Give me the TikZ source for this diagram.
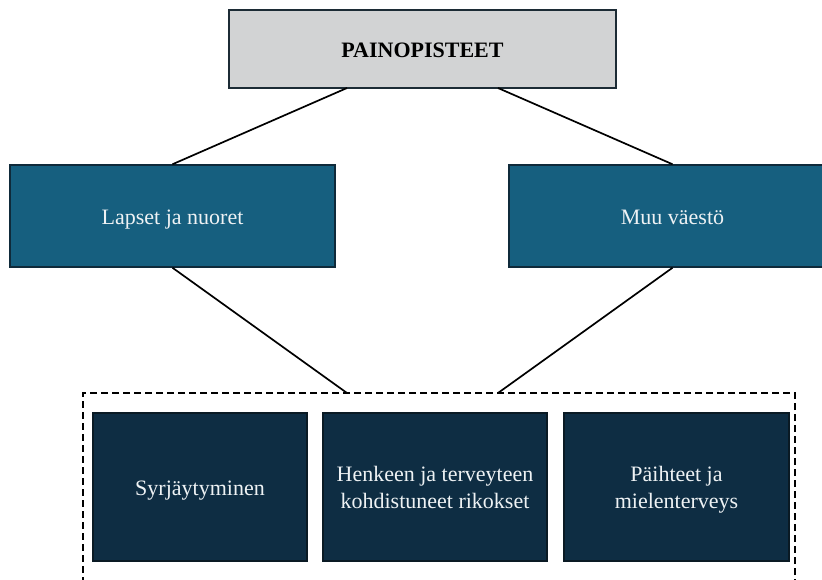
\documentclass[tikz,border=0pt]{standalone}
\usepackage{fontspec}
\setmainfont{Liberation Serif}
\definecolor{topfill}{HTML}{D2D3D4}
\definecolor{topdraw}{HTML}{1C2B35}
\definecolor{midfill}{HTML}{165F7F}
\definecolor{middraw}{HTML}{0F2A3A}
\definecolor{lowfill}{HTML}{0E2D43}
\definecolor{lowdraw}{HTML}{0A1A24}
\definecolor{lighttext}{HTML}{EEF2F4}
\tikzset{
  box/.style={rectangle, inner sep=0pt, line width=1.5pt, align=center,
    font=\fontsize{22}{27}\selectfont},
  oneline/.style={text height=19pt, text depth=3pt},
  topbox/.style={box, oneline, fill=topfill, draw=topdraw, text=black, font=\fontsize{22}{27}\selectfont\bfseries},
  midbox/.style={box, oneline, fill=midfill, draw=middraw, text=lighttext},
  lowbox/.style={box, fill=lowfill, draw=lowdraw, text=lighttext},
  grp/.style={rectangle, draw=black, line width=2.2pt, dash pattern=on 7pt off 4pt},
  conn/.style={draw=black, line width=1.7pt}
}
\newcommand{\nodepth}[1]{\raisebox{0pt}[\height][0pt]{#1}}
\begin{document}
\begin{tikzpicture}[x=1pt,y=-1pt]
\clip (0,0) rectangle (822,579);
\fill[white] (0,0) rectangle (822,579);
\node[grp, minimum width=712pt, minimum height=207pt] (group) at (439,496.5) {};
\node[topbox, minimum width=387pt, minimum height=78pt] (top) at (422.5,49) {PAINOPISTEET};
\node[midbox, minimum width=325pt, minimum height=102pt] (lapset) at (172.5,216) {Lapset ja nuoret};
\node[midbox, minimum width=327pt, minimum height=102pt] (muu) at (672.5,216) {Muu väestö};
\node[lowbox, oneline, minimum width=214pt, minimum height=148pt] (syr) at (200,487) {Syrjäytyminen};
\node[lowbox, minimum width=224pt, minimum height=148pt] (henk) at (435,487) {Henkeen ja terveyteen\\\nodepth{kohdistuneet rikokset}};
\node[lowbox, minimum width=225pt, minimum height=148pt] (paih) at (676.5,487) {Päihteet ja\\\nodepth{mielenterveys}};
\coordinate (tl) at (347,88);
\coordinate (tr) at (498,88);
\coordinate (gl) at (347,393);
\coordinate (gr) at (498,393);
\draw[conn] (tl) -- (lapset.north);
\draw[conn] (tr) -- (muu.north);
\draw[conn] (lapset.south) -- (gl);
\draw[conn] (muu.south) -- (gr);
\end{tikzpicture}
\end{document}
